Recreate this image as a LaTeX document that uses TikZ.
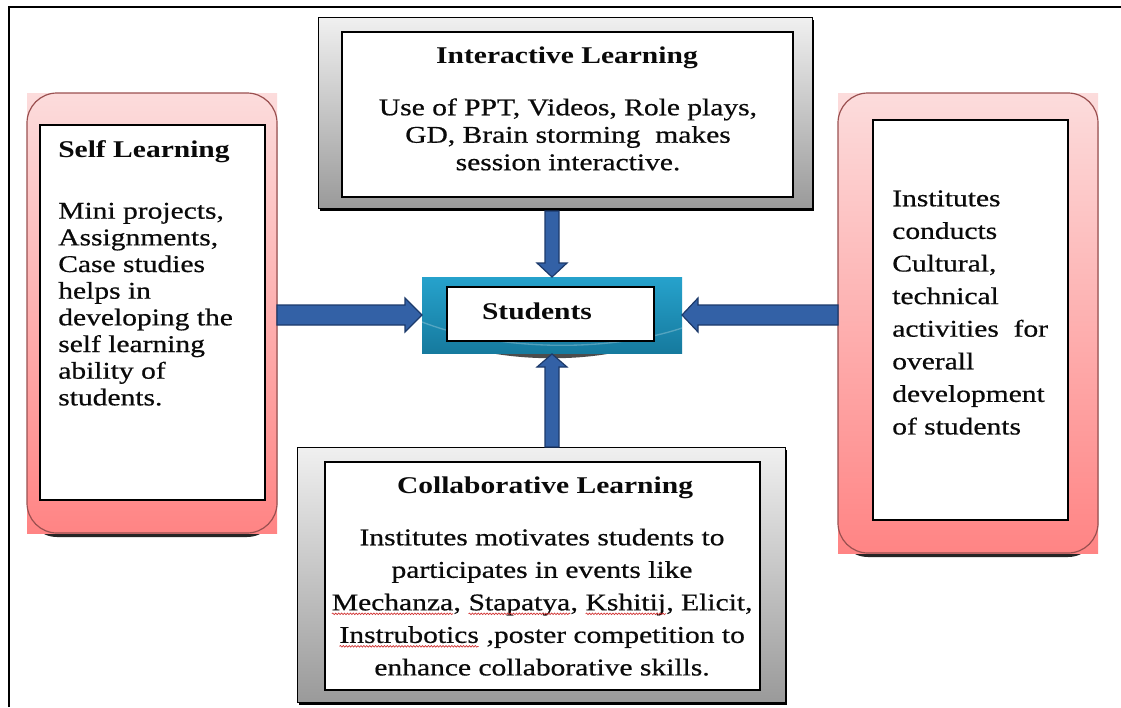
\documentclass[tikz,border=0pt]{standalone}
\usepackage{fontspec}
\setmainfont{Liberation Serif}[FakeStretch=1.23, UprightFeatures={FakeBold=0.6}]
\usetikzlibrary{fit,calc,decorations.pathmorphing}
\definecolor{pinkT}{HTML}{FCDCDC}
\definecolor{pinkB}{HTML}{FF8484}
\definecolor{pinkLine}{HTML}{9A5050}
\definecolor{grayT}{HTML}{F0F0F0}
\definecolor{grayB}{HTML}{9A9A9A}
\definecolor{tealT}{HTML}{26A2CC}
\definecolor{tealB}{HTML}{167A9E}
\definecolor{arrowFill}{HTML}{3361A6}
\definecolor{arrowLine}{HTML}{1C3A6B}
\definecolor{txt}{HTML}{0A0A0A}
\definecolor{squig}{HTML}{D03030}
\newcommand\sqw[1]{\tikz[baseline=(sqwn.base)]{\node[inner sep=0pt,outer sep=0pt] (sqwn) {#1};
  \draw[squig, line width=0.5pt, decorate, decoration={snake, amplitude=0.6pt, segment length=2.2pt}]
    ([yshift=-2.6pt]sqwn.base west) -- ([yshift=-2.6pt]sqwn.base east);}}
\newcommand\fl{\rule{0pt}{13.8pt}}
\begin{document}
\begin{tikzpicture}[x=0.75pt,y=-0.75pt,
  box/.style={inner sep=0pt, outer sep=0pt},
  innerbox/.style={box, draw=black, line width=0.9pt, fill=white},
  pinkshade/.style={top color=pinkT, bottom color=pinkB},
  grayshade/.style={top color=grayT, bottom color=grayB},
  tx/.style={inner sep=0pt, text=txt},
  ttl/.style={inner sep=0pt, text=txt, font=\bfseries\fontsize{18}{21}\selectfont},
  blockarrow/.style={fill=arrowFill, draw=arrowLine, line width=0.9pt, line join=miter}]
\useasboundingbox (0,0) rectangle (1121,707);
\fill[white] (0,0) rectangle (1121,707);
% outer frame
\draw[line width=1.5pt] (9,707) -- (9,7) -- (1121,7);

% ---------- Self Learning (left pink) ----------
\node[box, fit={(27,93)(277,533)}] (self) {};
\fill[black!85, rounded corners=22.5pt] ($(self.south west)+(0,4)$) rectangle ($(self.north east)+(0,4)$);
\shade[pinkshade] (self.south west) rectangle (self.north east);
\draw[pinkLine, line width=0.9pt, rounded corners=22.5pt] (self.south west) rectangle (self.north east);
\node[innerbox, fit={(40,125)(265,500)}] (selfin) {};
\node[ttl, anchor=base west] (selft) at (58,157) {Self Learning};
\node[tx, anchor=north west, align=left, font=\fontsize{18}{20}\selectfont] (selfb) at (58,200)
  {\fl Mini projects,\\ Assignments,\\ Case studies\\ helps in\\ developing the\\ self learning\\ ability of\\ students.};

% ---------- Institutes (right pink) ----------
\node[box, fit={(838,93)(1098,553)}] (inst) {};
\fill[black!85, rounded corners=22.5pt] ($(inst.south west)+(0,4)$) rectangle ($(inst.north east)+(0,4)$);
\shade[pinkshade] (inst.south west) rectangle (inst.north east);
\draw[pinkLine, line width=0.9pt, rounded corners=22.5pt] (inst.south west) rectangle (inst.north east);
\node[innerbox, fit={(873,120)(1068,520)}] (instin) {};
\node[tx, anchor=north west, align=left, font=\fontsize{18}{24.45}\selectfont] (instb) at (892,187.6)
  {\fl Institutes\\ conducts\\ Cultural,\\ technical\\ activities~ for\\ overall\\ development\\ of students};

% ---------- Interactive Learning (top) ----------
\node[box, fit={(318,17)(812,208)}] (inter) {};
\fill[black] ($(inter.south west)+(2,3)$) rectangle ($(inter.north east)+(2,3)$);
\shade[grayshade, draw=black, line width=0.5pt] (inter.south west) rectangle (inter.north east);
\node[innerbox, fit={(342,32)(793,197)}] (interin) {};
\node[ttl, anchor=base] (intert) at (567,63) {Interactive Learning};
\node[tx, anchor=north, align=center, font=\fontsize{18}{20.6}\selectfont] (interb) at (568,96.6)
  {\fl Use of PPT, Videos, Role plays,\\ GD, Brain storming~ makes\\ session interactive.};

% ---------- Collaborative Learning (bottom) ----------
\node[box, fit={(297,447)(785,702)}] (collab) {};
\fill[black] ($(collab.south west)+(2,3)$) rectangle ($(collab.north east)+(2,3)$);
\shade[grayshade, draw=black, line width=0.5pt] (collab.south west) rectangle (collab.north east);
\node[innerbox, fit={(325,462)(760,690)}] (collabin) {};
\node[ttl, anchor=base] (collabt) at (545,493) {Collaborative Learning};
\node[tx, anchor=north, align=center, font=\fontsize{18}{24.4}\selectfont] (collabb) at (542,526.6)
  {\fl Institutes motivates students to\\ participates in events like\\
   \sqw{Mechanza}, \sqw{Stapatya}, \sqw{Kshitij}, Elicit,\\ \sqw{Instrubotics} ,poster competition to\\ enhance collaborative skills.};

% ---------- Students (centre) ----------
\node[box, fit={(422,277)(682,353)}] (stud) {};
\fill[black!70] (490,353) .. controls (530,360) and (575,360) .. (613,353) -- cycle;
\shade[top color=tealT, bottom color=tealB] (stud.south west) rectangle (stud.north east);
\draw[white, opacity=0.25, line width=1pt] (422,322) .. controls (500,352) and (610,352) .. (682,328);
\node[innerbox, fit={(447,287)(654,341)}] (studin) {};
\node[ttl, anchor=base] (studt) at (537,319) {Students};

% ---------- block arrows ----------
% down: Interactive -> Students
\coordinate (dS) at ($(stud.north |- inter.south)+(0,3)$);
\draw[blockarrow] ($(dS)+(-7,0)$) -- ($(stud.north)+(-7,-14)$) -- ($(stud.north)+(-15,-14)$) -- (stud.north)
  -- ($(stud.north)+(15,-14)$) -- ($(stud.north)+(7,-14)$) -- ($(dS)+(7,0)$) -- cycle;
% up: Collaborative -> Students
\coordinate (uS) at (stud.south |- collab.north);
\draw[blockarrow] ($(uS)+(-7,0)$) -- ($(stud.south)+(-7,14)$) -- ($(stud.south)+(-15,14)$) -- ($(stud.south)+(0,1)$)
  -- ($(stud.south)+(15,14)$) -- ($(stud.south)+(7,14)$) -- ($(uS)+(7,0)$) -- cycle;
% right-pointing: Self -> Students
\coordinate (lS) at (self.east |- stud.west);
\draw[blockarrow] ($(lS)+(0,-10)$) -- ($(stud.west)+(-17,-10)$) -- ($(stud.west)+(-17,-17)$) -- (stud.west)
  -- ($(stud.west)+(-17,17)$) -- ($(stud.west)+(-17,10)$) -- ($(lS)+(0,10)$) -- cycle;
% left-pointing: Institutes -> Students
\coordinate (rS) at (inst.west |- stud.east);
\draw[blockarrow] ($(rS)+(0,-10)$) -- ($(stud.east)+(16,-10)$) -- ($(stud.east)+(16,-17)$) -- (stud.east)
  -- ($(stud.east)+(16,17)$) -- ($(stud.east)+(16,10)$) -- ($(rS)+(0,10)$) -- cycle;
\end{tikzpicture}
\end{document}
